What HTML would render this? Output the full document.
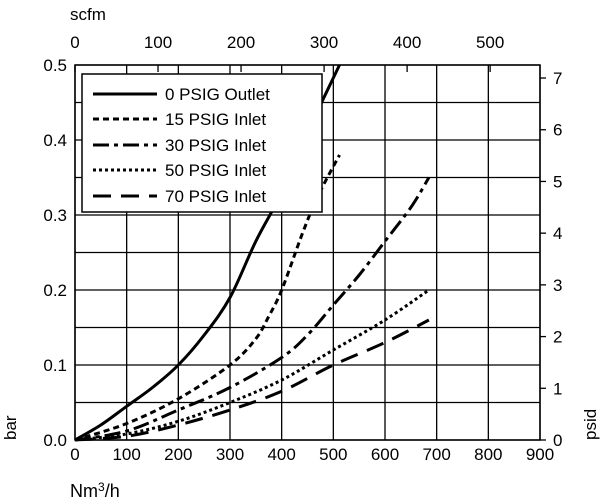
<!DOCTYPE html>
<html><head><meta charset="utf-8"><style>
html,body{margin:0;padding:0;background:#fff;}
svg{display:block;font-family:"Liberation Sans",sans-serif;}
</style></head><body>
<svg id="chart" width="600" height="504" viewBox="0 0 600 504" xmlns="http://www.w3.org/2000/svg">
<g id="grid"></g>
<g id="axes"></g>
<g id="series"></g>
<g id="legend"></g>
</svg>
<script>
const xTicks=[0,100,200,300,400,500,600,700,800,900];
const yTicks=[0,0.1,0.2,0.3,0.4,0.5];
const psiTicks=[0,1,2,3,4,5,6,7];
const scfmTicks=[0,100,200,300,400,500];
const seriesNames=["0 PSIG Outlet","15 PSIG Inlet","30 PSIG Inlet","50 PSIG Inlet","70 PSIG Inlet"];
const s0x=[0,50,100,150,200,250,300,350,400,450,512];
const s0y=[0,0.02,0.045,0.07,0.1,0.14,0.19,0.265,0.33,0.41,0.5];
const s15x=[0,100,200,300,350,375,400,440,470,512];
const s15y=[0,0.022,0.055,0.1,0.135,0.165,0.2,0.275,0.325,0.38];
const s30x=[0,100,200,300,400,450,500,550,600,650,685];
const s30y=[0,0.012,0.04,0.07,0.11,0.14,0.18,0.22,0.265,0.31,0.35];
const s50x=[0,100,200,300,400,500,600,685];
const s50y=[0,0.008,0.025,0.05,0.08,0.12,0.16,0.2];
const s70x=[0,100,200,300,400,500,600,685];
const s70y=[0,0.005,0.02,0.04,0.065,0.1,0.13,0.16];
const seriesX=[s0x,s15x,s30x,s50x,s70x];
const seriesY=[s0y,s15y,s30y,s50y,s70y];
const dashes=["","6 4","16 5 4 5","3 3","18 10"];

const L=75,R=540,T=65,B=440;
const xs=v=>L+(v/900)*(R-L);
const ys=v=>B-(v/0.5)*(B-T);
const NS="http://www.w3.org/2000/svg";
function mk(tag,parent,attrs){const e=document.createElementNS(NS,tag);for(const k in attrs)e.setAttribute(k,attrs[k]);parent.appendChild(e);return e;}
const grid=document.getElementById('grid'),axes=document.getElementById('axes'),ser=document.getElementById('series'),leg=document.getElementById('legend');

for(const v of xTicks){const l=mk('line',grid,{x1:xs(v),x2:xs(v),y1:T,y2:B,stroke:'#000','stroke-width':1.3});


const t=mk('text',axes,{x:xs(v),y:460,'font-size':17,'text-anchor':'middle'});t.textContent=v;

}
for(let i=0;i<=10;i++){const v=i*0.05;const l=mk('line',grid,{x1:L,x2:R,y1:ys(v),y2:ys(v),stroke:'#000','stroke-width':1.3});

}
for(const v of yTicks){const t=mk('text',axes,{x:67,y:ys(v)+6,'font-size':17,'text-anchor':'end'});t.textContent=v.toFixed(1);

}
for(const p of psiTicks){const y=ys(p*0.0689476);const l=mk('line',axes,{x1:R,x2:R+6,y1:y,y2:y,stroke:'#000','stroke-width':1.3});


const t=mk('text',axes,{x:553,y:y+6,'font-size':17});t.textContent=p;

}
for(const s of scfmTicks){const x=xs(s*1.607);const l=mk('line',axes,{x1:x,x2:x,y1:T,y2:T+7,stroke:'#000','stroke-width':1.3});


const t=mk('text',axes,{x:x,y:48,'font-size':17,'text-anchor':'middle'});t.textContent=s;

}
let t=mk('text',axes,{x:70,y:20,'font-size':17});t.textContent='scfm';


t=mk('text',axes,{x:70,y:497,'font-size':18});t.innerHTML='Nm<tspan dy="-6" font-size="12">3</tspan><tspan dy="6">/h</tspan>';


t=mk('text',axes,{x:0,y:0,'font-size':17,transform:'translate(16,440) rotate(-90)'});t.textContent='bar';


t=mk('text',axes,{x:0,y:0,'font-size':17,transform:'translate(596,440) rotate(-90)'});t.textContent='psid';



function smooth(pts){
 let d='M'+pts[0][0].toFixed(1)+','+pts[0][1].toFixed(1);
 for(let i=0;i<pts.length-1;i++){
  const p0=pts[Math.max(0,i-1)],p1=pts[i],p2=pts[i+1],p3=pts[Math.min(pts.length-1,i+2)];
  const c1=[p1[0]+(p2[0]-p0[0])/6,p1[1]+(p2[1]-p0[1])/6];
  const c2=[p2[0]-(p3[0]-p1[0])/6,p2[1]-(p3[1]-p1[1])/6];
  d+=' C'+c1.map(n=>n.toFixed(1)).join(',')+' '+c2.map(n=>n.toFixed(1)).join(',')+' '+p2[0].toFixed(1)+','+p2[1].toFixed(1);
 }
 return d;
}
for(let i=0;i<seriesX.length;i++){
 const pts=seriesX[i].map((x,j)=>[xs(x),ys(seriesY[i][j])]);
 const p=mk('path',ser,{d:smooth(pts),fill:'none',stroke:'#000','stroke-width':3,'stroke-dasharray':dashes[i]});
 
 
}
const box=mk('rect',leg,{x:82,y:74,width:240,height:138,fill:'#fff',stroke:'#000','stroke-width':1.5});


const ly=[94,119,145,170,196];
for(let i=0;i<seriesNames.length;i++){
 const l=mk('line',leg,{x1:93,x2:157,y1:ly[i],y2:ly[i],stroke:'#000','stroke-width':3,'stroke-dasharray':dashes[i]});
 
 
 const tx=mk('text',leg,{x:165,y:ly[i]+6,'font-size':17});tx.textContent=seriesNames[i];
 
 
}
const frame=mk('rect',axes,{x:L,y:T,width:R-L,height:B-T,fill:'none',stroke:'#000','stroke-width':1.5});


</script>
</body></html>
